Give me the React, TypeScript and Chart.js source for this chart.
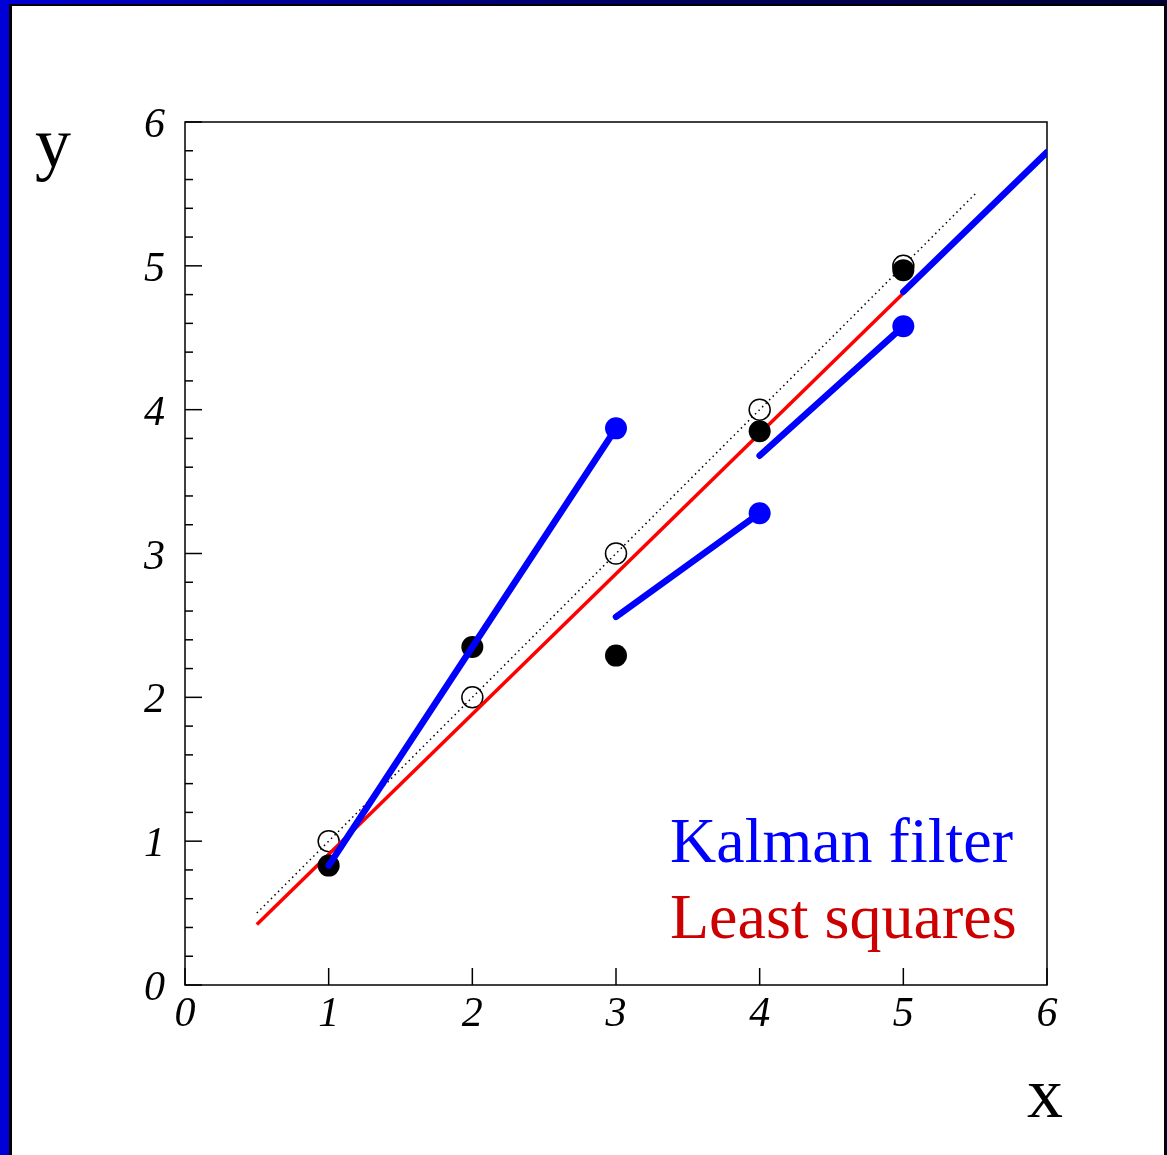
import React, { useEffect, useRef } from "react";
import { Chart, registerables } from "chart.js";

Chart.register(...registerables);

// ---- data ----
const pointX = [1, 2, 3, 4, 5];
const trueY = [1, 2, 3, 4, 5];
const measuredY = [0.83, 2.35, 2.29, 3.85, 4.97];

const diagX = [0.5, 5.5];
const diagY = [0.5, 5.5];

const lsqX = [0.5, 5];
const lsqY = [0.42, 4.81];

const kalmanStartX = [1, 3, 4, 5];
const kalmanStartY = [0.83, 2.56, 3.68, 4.82];
const kalmanEndX = [3, 4, 5, 6];
const kalmanEndY = [3.87, 3.28, 4.58, 5.79];

const predX = [3, 4, 5];
const predY = [3.87, 3.28, 4.58];

const xTicks = [0, 1, 2, 3, 4, 5, 6];
const yTicks = [0, 1, 2, 3, 4, 5, 6];
const yMinorStep = 0.2;

const legendLabels = ["Kalman filter", "Least squares"];
const xTitle = "x";
const yTitle = "y";

const BLUE = "#0000ff";
const RED = "#ff0000";

const pts = (xs: number[], ys: number[]) => xs.map((x, i) => ({ x, y: ys[i] }));

const overlay = {
  id: "rootStyle",
  beforeDatasetsDraw(chart: any) {
    const { ctx, chartArea: a, scales } = chart;
    const xs = scales.x;
    const ys = scales.y;
    ctx.save();
    ctx.strokeStyle = "#000";
    ctx.lineWidth = 1.5;
    ctx.strokeRect(a.left, a.top, a.right - a.left, a.bottom - a.top);
    ctx.lineWidth = 1.5;
    // x major ticks (inward)
    xTicks.forEach((v) => {
      const px = xs.getPixelForValue(v);
      ctx.beginPath();
      ctx.moveTo(px, a.bottom);
      ctx.lineTo(px, a.bottom - 17);
      ctx.stroke();
    });
    // y ticks major + minor
    for (let k = 0; k <= 30; k++) {
      const v = k * yMinorStep;
      const py = ys.getPixelForValue(v);
      const major = k % 5 === 0;
      ctx.beginPath();
      ctx.moveTo(a.left, py);
      ctx.lineTo(a.left + (major ? 17 : 8), py);
      ctx.stroke();
    }
    ctx.restore();
  },
  afterDraw(chart: any) {
    const { ctx, chartArea: a, scales } = chart;
    const xs = scales.x;
    const ys = scales.y;
    ctx.save();
    ctx.fillStyle = "#000";
    ctx.font = 'italic 42px "Liberation Serif", "Times New Roman", serif';
    ctx.textBaseline = "alphabetic";
    ctx.textAlign = "center";
    xTicks.forEach((v) => {
      ctx.fillText(String(v), xs.getPixelForValue(v), a.bottom + 41);
    });
    ctx.textAlign = "right";
    yTicks.forEach((v) => {
      ctx.fillText(String(v), a.left - 20, ys.getPixelForValue(v) + 15);
    });
    // axis titles
    ctx.font = '72px "Liberation Serif", "Times New Roman", serif';
    ctx.textAlign = "left";
    ctx.fillText(yTitle, 35, 167);
    ctx.textAlign = "center";
    ctx.fillText(xTitle, 1045, 1117);
    // legend text
    ctx.font = '64px "Liberation Serif", "Times New Roman", serif';
    ctx.textAlign = "left";
    ctx.fillStyle = "#0000ff";
    ctx.fillText(legendLabels[0], 670, 862);
    ctx.fillStyle = "#cc0000";
    ctx.fillText(legendLabels[1], 670, 938);
    ctx.restore();
  },
};

export default function App() {
  const ref = useRef<HTMLCanvasElement>(null);
  useEffect(() => {
    if (!ref.current) return;
    const kalmanSets = kalmanStartX.map((sx, i) => ({
      label: "kalman" + i,
      data: pts([sx, kalmanEndX[i]], [kalmanStartY[i], kalmanEndY[i]]),
      showLine: true,
      borderColor: BLUE,
      borderWidth: 6.5,
      borderCapStyle: "round",
      pointRadius: 0,
      order: 4,
    }));
    const chart = new Chart(ref.current, {
      type: "scatter",
      data: {
        datasets: [
          {
            label: "diag",
            data: pts(diagX, diagY),
            showLine: true,
            borderColor: "#000",
            borderWidth: 1.5,
            borderDash: [1.5, 3.5],
            pointRadius: 0,
            order: 10,
          },
          {
            label: "true",
            data: pts(pointX, trueY),
            showLine: false,
            pointRadius: 10.5,
            pointBackgroundColor: "rgba(0,0,0,0)",
            pointBorderColor: "#000",
            pointBorderWidth: 1.5,
            order: 9,
          },
          {
            label: "lsq",
            data: pts(lsqX, lsqY),
            showLine: true,
            borderColor: RED,
            borderWidth: 3.5,
            pointRadius: 0,
            order: 8,
          },
          ...kalmanSets,
          {
            label: "measured",
            data: pts(pointX, measuredY),
            showLine: false,
            pointRadius: 11,
            pointBackgroundColor: "#000",
            pointBorderColor: "#000",
            pointBorderWidth: 0,
            order: 5,
          },
          {
            label: "pred",
            data: pts(predX, predY),
            showLine: false,
            pointRadius: 11,
            pointBackgroundColor: BLUE,
            pointBorderColor: BLUE,
            pointBorderWidth: 0,
            order: 3,
          },
        ] as any,
      },
      options: {
        animation: false,
        responsive: false,
        devicePixelRatio: 1,
        layout: { padding: { left: 185, right: 120, top: 122, bottom: 170 } },
        plugins: { legend: { display: false }, tooltip: { enabled: false } },
        events: [],
        scales: {
          x: { type: "linear", min: 0, max: 6, display: false },
          y: { type: "linear", min: 0, max: 6, display: false },
        },
      } as any,
      plugins: [overlay],
    });
    return () => chart.destroy();
  }, []);

  return (
    <div
      style={{
        position: "absolute",
        left: 0,
        top: 0,
        width: 1167,
        height: 1155,
        overflow: "hidden",
        background: "linear-gradient(to right, #0000d8 0%, #0000a0 20%, #000060 55%, #000035 100%)",
      }}
    >
      <div
        style={{
          position: "absolute",
          left: 9,
          top: 4,
          width: 1152,
          height: 1170,
          background: "#fff",
          borderLeft: "3px solid #000",
          borderTop: "2px solid #000",
          borderRight: "2px solid #000",
        }}
      />
      <canvas
        ref={ref}
        width={1167}
        height={1155}
        style={{ position: "absolute", left: 0, top: 0, display: "block" }}
      />
    </div>
  );
}
